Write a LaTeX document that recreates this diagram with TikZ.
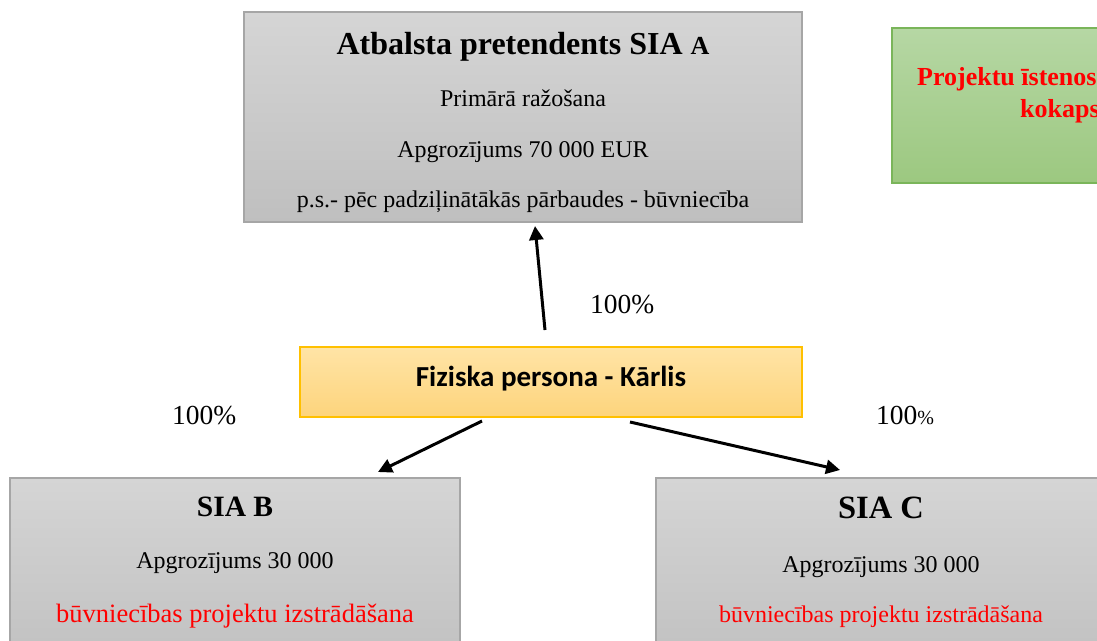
\documentclass[tikz,border=0pt]{standalone}
\usepackage{fontspec}
\setmainfont{Liberation Serif}
\newfontfamily\calibrifont{Carlito}
\usetikzlibrary{arrows.meta}
\definecolor{graytop}{HTML}{D5D5D5}
\definecolor{graybot}{HTML}{BFBFBF}
\definecolor{grayedge}{HTML}{A6A6A6}
\definecolor{greentop}{HTML}{B6D7A4}
\definecolor{greenbot}{HTML}{9CC880}
\definecolor{greenedge}{HTML}{7AB55A}
\definecolor{orangetop}{HTML}{FFE4A6}
\definecolor{orangebot}{HTML}{FDD47C}
\definecolor{orangeedge}{HTML}{FFC000}
\definecolor{redtext}{HTML}{FF0000}
\begin{document}
\begin{tikzpicture}[x=1pt,y=-1pt,
  box/.style={rectangle, inner sep=0pt, outer sep=0pt, anchor=north west, line width=1.2pt},
  graybox/.style={box, draw=grayedge, top color=graytop, bottom color=graybot},
  greenbox/.style={box, draw=greenedge, top color=greentop, bottom color=greenbot},
  orangebox/.style={box, draw=orangeedge, top color=orangetop, bottom color=orangebot},
  txt/.style={anchor=base, inner sep=0pt},
  body/.style={txt, font=\fontsize{24}{28}\selectfont},
  pct/.style={anchor=base west, inner sep=0pt, font=\fontsize{27.5}{32}\selectfont},
  arr/.style={-{Triangle[length=14pt,width=14pt]}, line width=3pt, black}]
\useasboundingbox (0,0) rectangle (1097,640);
\clip (0,0) rectangle (1097,640);

% boxes
\node[graybox, minimum width=558pt, minimum height=210pt] (A) at (244,12) {};
\node[greenbox, minimum width=260pt, minimum height=155pt] (G) at (892,28) {};
\node[orangebox, minimum width=502pt, minimum height=70pt] (K) at (300,347) {};
\node[graybox, minimum width=450pt, minimum height=200pt] (B) at (10,478) {};
\node[graybox, minimum width=450pt, minimum height=200pt] (C) at (656,478) {};

% box A text
\node[txt, font=\bfseries\fontsize{32}{38}\selectfont] (At) at (523,54) {Atbalsta pretendents SIA {\fontsize{26}{30}\selectfont A}};
\node[body] (A1) at (523,106) {Primārā ražošana};
\node[body] (A2) at (523,157) {Apgrozījums 70 000 EUR};
\node[body] (A3) at (523,207) {p.s.- pēc padziļinātākās pārbaudes - būvniecība};

% green box text
\node[anchor=base west, inner sep=0pt, text=redtext, font=\bfseries\fontsize{26}{30}\selectfont] (G1) at (917,85) {Projektu īstenos};
\node[anchor=base west, inner sep=0pt, text=redtext, font=\bfseries\fontsize{26}{30}\selectfont] (G2) at (1020,117) {kokaps};

% Karlis
\node[txt, font=\calibrifont\bfseries\fontsize{29}{34}\selectfont] (Kt) at (551,386) {Fiziska persona - Kārlis};

% box B text
\node[txt, font=\bfseries\fontsize{29.5}{34}\selectfont] (Bt) at (235,516) {SIA B};
\node[body] (B1) at (235,568) {Apgrozījums 30 000};
\node[txt, text=redtext, font=\fontsize{26.5}{30}\selectfont] (B2) at (235,622) {būvniecības projektu izstrādāšana};

% box C text
\node[txt, font=\bfseries\fontsize{32.5}{38}\selectfont] (Ct) at (881,518) {SIA C};
\node[body] (C1) at (881,572) {Apgrozījums 30 000};
\node[txt, text=redtext, font=\fontsize{24}{28}\selectfont] (C2) at (881,622) {būvniecības projektu izstrādāšana};

% percentages
\node[pct] (p1) at (590,313) {100\%};
\node[pct] (p2) at (172,424) {100\%};
\node[pct] (p3) at (876,424) {100{\fontsize{20}{24}\selectfont\%}};

% arrow endpoints
\coordinate (uS) at (545,330);
\coordinate (uE) at (535,226);
\coordinate (lS) at (482,421);
\coordinate (lE) at (378,472);
\coordinate (rS) at (630,422);
\coordinate (rE) at (840,470);
\draw[arr] (uS) -- (uE);
\draw[arr] (lS) -- (lE);
\draw[arr] (rS) -- (rE);
\end{tikzpicture}
\end{document}
